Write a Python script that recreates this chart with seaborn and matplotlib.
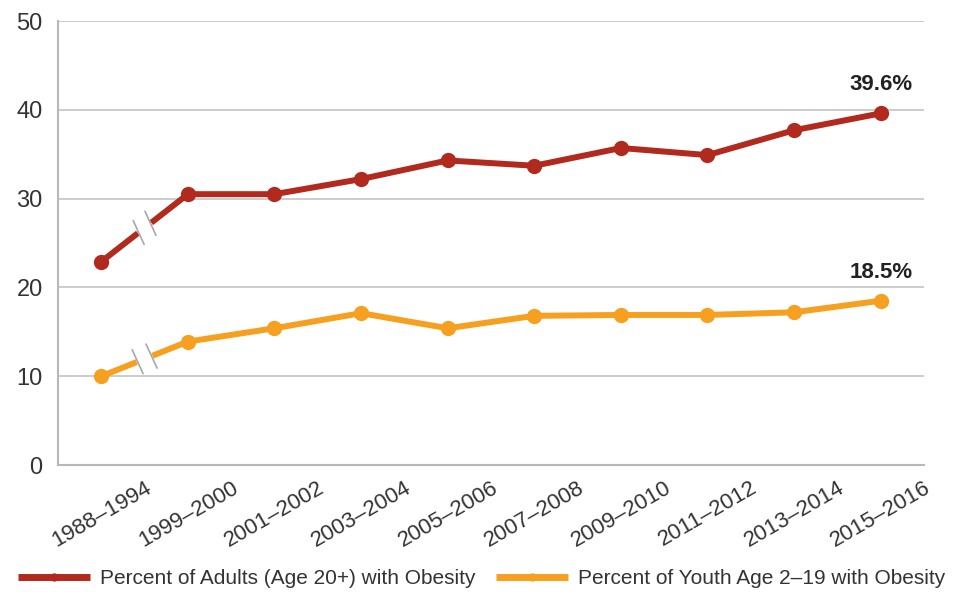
import numpy as np
import pandas as pd
import seaborn as sns
import matplotlib.pyplot as plt

# Survey periods and obesity prevalence (%)
periods = ["1988–1994", "1999–2000", "2001–2002", "2003–2004", "2005–2006",
           "2007–2008", "2009–2010", "2011–2012", "2013–2014", "2015–2016"]
adults = [22.9, 30.5, 30.5, 32.2, 34.3, 33.7, 35.7, 34.9, 37.7, 39.6]
youth = [10.0, 13.9, 15.4, 17.1, 15.4, 16.8, 16.9, 16.9, 17.2, 18.5]
series_names = ["Percent of Adults (Age 20+) with Obesity",
                "Percent of Youth Age 2–19 with Obesity"]
series_colors = ["#B2291E", "#F7A01F"]
y_ticks = [0, 10, 20, 30, 40, 50]

sns.set_theme(style="white")
plt.rcParams["font.family"] = ["Liberation Sans", "DejaVu Sans"]

n = len(periods)
df = pd.DataFrame({
    "pos": np.tile(np.arange(n), 2),
    "value": adults + youth,
    "series": [series_names[0]] * n + [series_names[1]] * n,
})

fig = plt.figure(figsize=(9.63, 5.92), dpi=100)
ax = fig.add_axes([0.0602, 0.2145, 0.8993, 0.75])

sns.lineplot(data=df, x="pos", y="value", hue="series", hue_order=series_names,
             palette=series_colors, marker="o", markersize=11, markeredgewidth=0,
             linewidth=4.3, ax=ax, legend=False, zorder=3)

ax.set_xlim(-0.5, n - 0.5)
ax.set_ylim(0, 50)
ax.set_xlabel("")
ax.set_ylabel("")

# Axes styling
ax.set_axisbelow(True)
ax.grid(axis="y", color="#C8C8C8", linewidth=1.3)
ax.grid(axis="x", visible=False)
for side in ["top", "right"]:
    ax.spines[side].set_visible(False)
for side in ["left", "bottom"]:
    ax.spines[side].set_color("#B8B8B8")
    ax.spines[side].set_linewidth(1.5)

ax.set_yticks(y_ticks)
ax.tick_params(axis="y", length=0, pad=11, labelsize=17, labelcolor="#333333")
ax.set_xticks(np.arange(n) + 0.5)
ax.set_xticklabels(periods, rotation=30, ha="right", rotation_mode="anchor")
ax.tick_params(axis="x", direction="in", length=7, width=1.2, color="#B8B8B8",
               pad=9, labelsize=16, labelcolor="#333333")

# Axis-break marks on the first segment of each series
to_disp = ax.transData.transform
to_data = ax.transData.inverted().transform
for vals in (adults, youth):
    p0 = to_disp((0, vals[0]))
    p1 = to_disp((1, vals[1]))
    mid = (p0 + p1) / 2
    d = (p1 - p0) / np.linalg.norm(p1 - p0)
    gap = to_data(np.array([mid - d * 8.5, mid + d * 8.5]))
    ax.plot(gap[:, 0], gap[:, 1], color="white", linewidth=7, solid_capstyle="butt",
            zorder=4)
    for s in (-7.5, 7.5):
        c = mid + d * s
        stroke = to_data(np.array([c + np.array([-5.5, 12]), c + np.array([5.5, -12])]))
        ax.plot(stroke[:, 0], stroke[:, 1], color="#A8A8A8", linewidth=1.2,
                zorder=5, clip_on=False)

# End-value labels
for vals in (adults, youth):
    ax.annotate(f"{vals[-1]:.1f}%", xy=(n - 1, vals[-1]), xytext=(0, 13),
                textcoords="offset points", ha="center", va="bottom",
                fontsize=16, fontweight="bold", color="#222222")

# Legend along the bottom
handles = ax.get_lines()[:2]
leg = fig.legend(handles, series_names, loc="center", bbox_to_anchor=(0.5, 0.022),
                 ncol=2, frameon=False, fontsize=15, handlelength=3.45,
                 handletextpad=0.48, columnspacing=1.0, labelcolor="#333333",
                 borderaxespad=0, borderpad=0)
for h in leg.legend_handles:
    h.set_markersize(6)
    h.set_linewidth(5)
    h.set_solid_capstyle("butt")

fig.savefig("out.png", dpi=100)
